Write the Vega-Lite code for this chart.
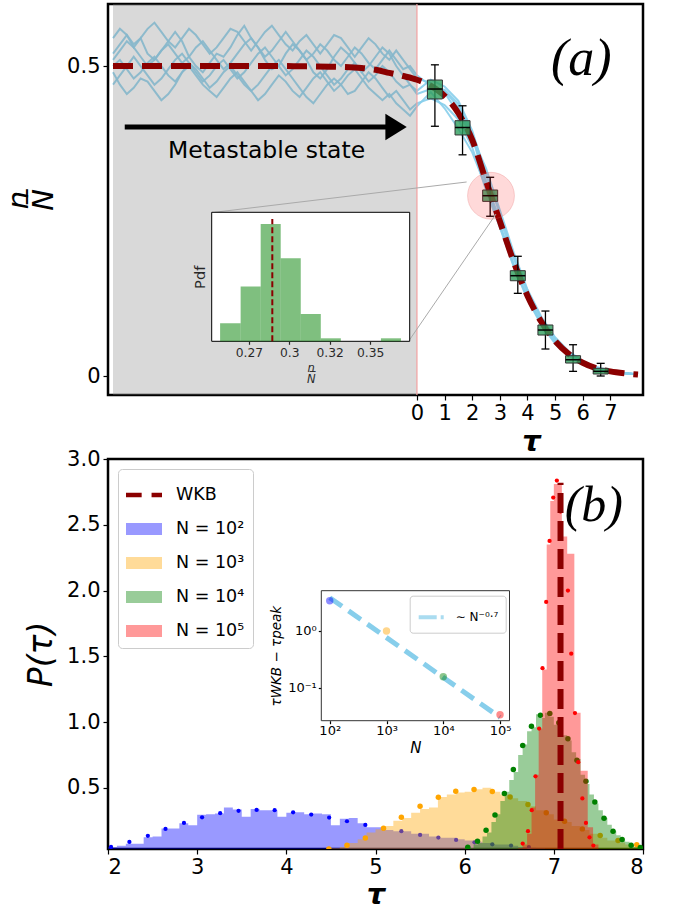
{
"$schema": "https://vega.github.io/schema/vega-lite/v6.json",
"background": "white",
"padding": {"top": 2, "left": 3, "right": 2, "bottom": 0},
"spacing": 64,
"bounds": "flush",
"resolve": {"legend": {"color": "independent", "shape": "independent", "stroke": "independent"}},
"config": {
  "font": "DejaVu Sans",
  "view": {"stroke": "black", "strokeWidth": 2.5},
  "axis": {"domain": false, "grid": false, "tickColor": "black", "tickWidth": 1.2, "labelColor": "black", "titleColor": "black", "titleFontWeight": "normal", "labelFont": "DejaVu Sans", "titleFont": "DejaVu Sans"}
},
"datasets": {
  "traces": [{
    "x": [-11,-10.75,-10.5,-10.25,-10,-9.75,-9.5,-9.25,-9,-8.75,-8.5,-8.25,-8,-7.75,-7.5,-7.25,-7,-6.75,-6.5,-6.25,-6,-5.75,-5.5,-5.25,-5,-4.75,-4.5,-4.25,-4,-3.75,-3.5,-3.25,-3,-2.75,-2.5,-2.25,-2,-1.75,-1.5,-1.25,-1,-0.75,-0.5,-0.25,0,0.5,1,1.5,2,2.5,3,3.5,4,4.5,5,5.5,6,6.5,7,7.5,8],
    "a": [0.52,0.535,0.55,0.53,0.545,0.52,0.51,0.525,0.54,0.555,0.54,0.515,0.50,0.49,0.505,0.52,0.515,0.53,0.55,0.565,0.545,0.53,0.51,0.495,0.50,0.52,0.535,0.525,0.51,0.49,0.48,0.495,0.515,0.53,0.52,0.505,0.49,0.50,0.515,0.53,0.52,0.50,0.485,0.47,0.46,0.478,0.467,0.444,0.396,0.325,0.262,0.195,0.138,0.094,0.061,0.039,0.024,0.014,0.008,0.005,0.003],
    "b": [0.49,0.47,0.455,0.465,0.48,0.475,0.46,0.445,0.455,0.47,0.49,0.50,0.485,0.47,0.46,0.45,0.465,0.48,0.49,0.475,0.46,0.47,0.485,0.50,0.51,0.495,0.48,0.465,0.45,0.44,0.455,0.47,0.48,0.47,0.455,0.46,0.475,0.49,0.48,0.465,0.45,0.46,0.445,0.43,0.44,0.448,0.437,0.414,0.369,0.3,0.24,0.177,0.124,0.083,0.053,0.033,0.02,0.012,0.007,0.005,0.003],
    "c": [0.545,0.56,0.55,0.535,0.545,0.56,0.57,0.555,0.54,0.53,0.545,0.56,0.55,0.535,0.52,0.53,0.545,0.56,0.555,0.54,0.525,0.54,0.555,0.565,0.55,0.535,0.525,0.54,0.55,0.535,0.52,0.535,0.55,0.545,0.53,0.515,0.53,0.545,0.535,0.52,0.51,0.525,0.51,0.495,0.48,0.473,0.457,0.424,0.386,0.335,0.268,0.2,0.14,0.096,0.063,0.04,0.025,0.015,0.009,0.006,0.004],
    "d": [0.50,0.51,0.495,0.48,0.49,0.505,0.515,0.50,0.485,0.475,0.49,0.505,0.495,0.48,0.465,0.475,0.49,0.50,0.485,0.47,0.46,0.445,0.455,0.47,0.485,0.475,0.46,0.45,0.465,0.48,0.49,0.475,0.46,0.47,0.485,0.495,0.48,0.465,0.455,0.445,0.455,0.44,0.43,0.42,0.435,0.458,0.432,0.399,0.361,0.305,0.245,0.181,0.127,0.086,0.055,0.035,0.021,0.013,0.008,0.005,0.003],
    "e": [0.51,0.525,0.54,0.53,0.515,0.50,0.51,0.525,0.535,0.52,0.505,0.515,0.53,0.54,0.525,0.51,0.495,0.505,0.52,0.535,0.545,0.53,0.515,0.525,0.54,0.555,0.54,0.525,0.51,0.52,0.535,0.525,0.51,0.50,0.515,0.53,0.52,0.505,0.495,0.51,0.525,0.51,0.495,0.50,0.485,0.468,0.46,0.434,0.386,0.31,0.254,0.19,0.134,0.09,0.058,0.036,0.022,0.013,0.008,0.005,0.003],
    "f": [0.47,0.485,0.50,0.515,0.50,0.485,0.47,0.48,0.495,0.51,0.52,0.505,0.49,0.475,0.485,0.50,0.51,0.495,0.48,0.49,0.505,0.52,0.53,0.515,0.50,0.485,0.495,0.51,0.525,0.515,0.50,0.485,0.47,0.48,0.495,0.505,0.49,0.475,0.485,0.50,0.49,0.475,0.465,0.47,0.455,0.463,0.462,0.439,0.391,0.315,0.242,0.179,0.126,0.085,0.055,0.035,0.022,0.013,0.008,0.005,0.003]
  }],
  "wkbA": [{
    "x": [-11,-8,-6,-5,-4,-3,-2,-1.5,-1,-0.5,0,0.5,1,1.5,2,2.5,3,3.5,4,4.5,5,5.5,6,6.5,7,7.5,8],
    "y": [0.5,0.5,0.5,0.5,0.4995,0.499,0.497,0.494,0.489,0.484,0.478,0.468,0.452,0.424,0.381,0.315,0.25,0.185,0.13,0.088,0.057,0.036,0.022,0.013,0.008,0.005,0.003]
  }],
  "boxes": [
    {"x":0.65,"lo":0.403,"q1":0.447,"med":0.463,"q3":0.4775,"hi":0.502},
    {"x":1.65,"lo":0.357,"q1":0.389,"med":0.401,"q3":0.412,"hi":0.436},
    {"x":2.65,"lo":0.258,"q1":0.282,"med":0.2911,"q3":0.3003,"hi":0.3208},
    {"x":3.65,"lo":0.1338,"q1":0.1541,"med":0.1622,"q3":0.1703,"hi":0.1935},
    {"x":4.65,"lo":0.0441,"q1":0.0666,"med":0.0747,"q3":0.0828,"hi":0.1053},
    {"x":5.65,"lo":0.0081,"q1":0.0215,"med":0.0268,"q3":0.0333,"hi":0.051},
    {"x":6.65,"lo":0.0006,"q1":0.0038,"med":0.0081,"q3":0.013,"hi":0.021}
  ],
  "inhist": [{
    "x": [0.2572,0.2699,0.2823,0.2947,0.3071,0.3195,0.3567],
    "x2": [0.2699,0.2823,0.2947,0.3071,0.3195,0.3319,0.3691],
    "y": [6,18.3,39.1,27.7,9.1,1,1]
  }],
  "hist": [
    {"N":"2","x":[2.0,2.1,2.2,2.3,2.4,2.5,2.6,2.7,2.8,2.9,3.0,3.1,3.2,3.3,3.4,3.5,3.6,3.7,3.8,3.9,4.0,4.1,4.2,4.3,4.4,4.5,4.6,4.7,4.8,4.9,5.0,5.1,5.2,5.3,5.4,5.5,5.6,5.7,5.8,5.9,6.0,6.1,6.2,6.3,6.4,6.5,6.6,6.7,6.8,6.9,7.0,7.1],
     "y":[0.05,0.06,0.075,0.075,0.125,0.13,0.19,0.19,0.23,0.215,0.295,0.3,0.305,0.35,0.335,0.28,0.34,0.33,0.33,0.28,0.31,0.315,0.3,0.305,0.3,0.215,0.265,0.27,0.23,0.2,0.2,0.18,0.17,0.17,0.15,0.15,0.13,0.12,0.12,0.11,0.1,0.09,0.08,0.07,0.07,0.06,0.05,0.045,0.04,0.035,0.03,0]},
    {"N":"3","x":[4.4,4.5,4.6,4.7,4.8,4.9,5.0,5.1,5.2,5.3,5.4,5.5,5.6,5.7,5.8,5.9,6.0,6.1,6.2,6.3,6.4,6.5,6.6,6.7,6.8,6.9,7.0,7.1,7.2,7.3,7.4,7.5,7.6,7.7,7.8,7.9,8.0],
     "y":[0.03,0.04,0.05,0.08,0.11,0.16,0.185,0.21,0.25,0.27,0.31,0.34,0.35,0.43,0.45,0.465,0.47,0.49,0.5,0.47,0.45,0.42,0.4,0.36,0.33,0.3,0.26,0.24,0.21,0.18,0.15,0.12,0.1,0.085,0.07,0.05,0]},
    {"N":"4","x":[6.0,6.05,6.1,6.15,6.2,6.25,6.3,6.35,6.4,6.45,6.5,6.55,6.6,6.65,6.7,6.75,6.8,6.85,6.9,6.95,7.0,7.05,7.1,7.15,7.2,7.25,7.3,7.35,7.4,7.45,7.5,7.55,7.6,7.65,7.7,7.75,7.8,7.85,7.9,7.95,8.0],
     "y":[0.03,0.04,0.07,0.08,0.13,0.16,0.24,0.3,0.4,0.47,0.56,0.62,0.75,0.83,0.93,0.96,1.06,1.03,1.07,1.04,0.98,1.0,0.9,0.86,0.77,0.72,0.6,0.53,0.45,0.38,0.33,0.27,0.22,0.17,0.14,0.1,0.09,0.06,0.05,0.04,0]},
    {"N":"5","x":[6.6,6.65,6.7,6.75,6.79,6.83,6.87,6.92,6.96,7.0,7.09,7.15,7.23,7.3,7.38,7.44,7.5],
     "y":[0.04,0.07,0.15,0.35,0.6,0.95,1.4,2.35,2.68,2.81,2.41,2.28,1.07,0.63,0.2,0.07,0]}
  ],
  "dots": [
    {"N":"2","x":[2.034,2.24,2.447,2.645,2.852,3.055,3.258,3.464,3.667,3.869,4.076,4.279,4.48,4.68,4.886,5.09,5.29,5.5,5.705,5.904,6.11,6.31,6.52,6.72],
     "y":[0.051,0.089,0.135,0.188,0.233,0.276,0.307,0.325,0.332,0.33,0.314,0.297,0.274,0.246,0.218,0.19,0.17,0.142,0.122,0.104,0.086,0.071,0.061,0.05]},
    {"N":"3","x":[4.477,4.68,4.886,5.09,5.29,5.5,5.705,5.9,6.105,6.31,6.51,6.71,6.915,7.12,7.32,7.52,7.72,7.93],
     "y":[0.035,0.063,0.119,0.193,0.276,0.36,0.428,0.474,0.487,0.472,0.431,0.373,0.31,0.246,0.188,0.137,0.099,0.068]},
    {"N":"4","x":[6.035,6.144,6.24,6.34,6.445,6.546,6.651,6.749,6.85,6.955,7.056,7.158,7.259,7.36,7.46,7.563,7.664,7.766,7.867,7.97],
     "y":[0.048,0.094,0.177,0.294,0.457,0.639,0.822,0.969,1.052,1.065,0.994,0.873,0.71,0.55,0.393,0.269,0.17,0.107,0.063,0.046]},
    {"N":"5","x":[6.651,6.71,6.752,6.794,6.835,6.873,6.914,6.952,6.993,7.034,7.075,7.158,7.195,7.237,7.274,7.32,7.36,7.40,7.443],
     "y":[0.076,0.17,0.33,0.588,0.951,1.41,1.913,2.377,2.707,2.836,2.6,2.0,1.52,1.068,0.695,0.419,0.233,0.124,0.061]}
  ]
},
"vconcat": [
 {
  "width": 535, "height": 391,
  "resolve": {"scale": {"x": "independent", "y": "independent"}},
  "layer": [
   {"layer": [
     {"data": {"name": "traces"},
      "transform": [{"flatten": ["x","a","b","c","d","e","f"]}, {"fold": ["a","b","c","d","e","f"], "as": ["trace","y"]}],
      "mark": {"type": "line", "color": "#87ceeb", "strokeWidth": 2, "opacity": 0.9},
      "encoding": {
        "x": {"field": "x", "type": "quantitative", "scale": {"domain": [-11, 8], "nice": false, "zero": false},
              "axis": {"values": [0,1,2,3,4,5,6,7], "format": "d", "title": "τ", "titleFontSize": 29, "titleFontStyle": "italic", "titleFontWeight": "bold", "titleX": 423, "titlePadding": 4, "labelFontSize": 21, "tickSize": 5, "labelPadding": 2}},
        "y": {"field": "y", "type": "quantitative", "scale": {"domain": [-0.03, 0.6], "nice": false, "zero": false},
              "axis": {"values": [0, 0.5], "format": "~g", "title": ["n", "N\u0305"], "titleFontSize": 29, "titleFontStyle": "italic", "titleLineHeight": 25, "titlePadding": 8, "labelFontSize": 21, "tickSize": 5, "labelPadding": 3}},
        "detail": {"field": "trace", "type": "nominal"}
      }},
     {"data": {"values": [{"x": -11, "x2": 0, "y": -0.03, "y2": 0.6}]},
      "mark": {"type": "rect", "color": "gray", "opacity": 0.3},
      "encoding": {"x": {"field": "x", "type": "quantitative"}, "x2": {"field": "x2"}, "y": {"field": "y", "type": "quantitative"}, "y2": {"field": "y2"}}},
     {"data": {"values": [{"x": 0}]},
      "mark": {"type": "rule", "color": "#f2a0a0", "strokeWidth": 1.2},
      "encoding": {"x": {"field": "x", "type": "quantitative"}}},
     {"data": {"name": "wkbA"},
      "transform": [{"flatten": ["x","y"]}],
      "mark": {"type": "line", "color": "#8b0000", "strokeWidth": 6, "strokeDash": [20, 9], "interpolate": "monotone"},
      "encoding": {"x": {"field": "x", "type": "quantitative"}, "y": {"field": "y", "type": "quantitative"}}},
     {"data": {"name": "boxes"},
      "mark": {"type": "rule", "color": "black", "strokeWidth": 1.3},
      "encoding": {"x": {"field": "x", "type": "quantitative"}, "y": {"field": "lo", "type": "quantitative"}, "y2": {"field": "hi"}}},
     {"data": {"name": "boxes"},
      "mark": {"type": "tick", "orient": "horizontal", "color": "black", "size": 8, "thickness": 1.3, "opacity": 1},
      "encoding": {"x": {"field": "x", "type": "quantitative"}, "y": {"field": "lo", "type": "quantitative"}}},
     {"data": {"name": "boxes"},
      "mark": {"type": "tick", "orient": "horizontal", "color": "black", "size": 8, "thickness": 1.3, "opacity": 1},
      "encoding": {"x": {"field": "x", "type": "quantitative"}, "y": {"field": "hi", "type": "quantitative"}}},
     {"data": {"name": "boxes"},
      "mark": {"type": "bar", "fill": "#2e9d5c", "fillOpacity": 0.8, "stroke": "#333333", "strokeWidth": 1, "size": 15},
      "encoding": {"x": {"field": "x", "type": "quantitative"}, "y": {"field": "q1", "type": "quantitative"}, "y2": {"field": "q3"}}},
     {"data": {"name": "boxes"},
      "mark": {"type": "tick", "orient": "horizontal", "color": "black", "size": 15, "thickness": 1.5, "opacity": 1},
      "encoding": {"x": {"field": "x", "type": "quantitative"}, "y": {"field": "med", "type": "quantitative"}}},
     {"data": {"values": [{"x": 2.68, "y": 0.291}]},
      "mark": {"type": "point", "filled": true, "shape": "circle", "size": 2200, "fill": "#ff0000", "fillOpacity": 0.15, "stroke": "#e06060", "strokeOpacity": 0.25, "strokeWidth": 1},
      "encoding": {"x": {"field": "x", "type": "quantitative"}, "y": {"field": "y", "type": "quantitative"}}},
     {"data": {"values": [{"x": -7.324, "y": 0.2644, "x2": 1.797, "y2": 0.3132}, {"x": -0.305, "y": 0.0565, "x2": 2.861, "y2": 0.2616}]},
      "mark": {"type": "rule", "color": "#aaaaaa", "strokeWidth": 1},
      "encoding": {"x": {"field": "x", "type": "quantitative"}, "y": {"field": "y", "type": "quantitative"}, "x2": {"field": "x2"}, "y2": {"field": "y2"}}},
     {"data": {"values": [{"x": -10.575, "x2": -0.9, "y": 0.4018}]},
      "mark": {"type": "rule", "color": "black", "strokeWidth": 5},
      "encoding": {"x": {"field": "x", "type": "quantitative"}, "x2": {"field": "x2"}, "y": {"field": "y", "type": "quantitative"}}},
     {"data": {"values": [{"x": -0.755, "y": 0.4018}]},
      "mark": {"type": "point", "filled": true, "shape": "M-0.8,-1L0.8,0L-0.8,1Z", "size": 713, "color": "black", "opacity": 1},
      "encoding": {"x": {"field": "x", "type": "quantitative"}, "y": {"field": "y", "type": "quantitative"}}},
     {"data": {"values": [{"x": -5.44, "y": 0.363, "t": "Metastable state"}]},
      "mark": {"type": "text", "fontSize": 23.5, "font": "DejaVu Sans", "color": "black", "baseline": "middle", "align": "center"},
      "encoding": {"x": {"field": "x", "type": "quantitative"}, "y": {"field": "y", "type": "quantitative"}, "text": {"field": "t"}}},
     {"data": {"values": [{"x": 5.944, "y": 0.511, "t": "(a)"}]},
      "mark": {"type": "text", "fontSize": 52, "font": "Liberation Serif", "fontStyle": "italic", "color": "black", "baseline": "middle", "align": "center"},
      "encoding": {"x": {"field": "x", "type": "quantitative"}, "y": {"field": "y", "type": "quantitative"}, "text": {"field": "t"}}}
   ]},
   {"layer": [
     {"data": {"values": [{"x": 0.252, "x2": 0.3745, "y": 0, "y2": 43}]},
      "mark": {"type": "rect", "fill": "white", "stroke": "black", "strokeWidth": 1},
      "encoding": {
        "x": {"field": "x", "type": "quantitative", "scale": {"domain": [0.252, 0.3745], "range": [103.7, 301.7], "nice": false, "zero": false},
              "axis": {"orient": "bottom", "offset": -53.7, "values": [0.275, 0.3, 0.325, 0.35], "labelExpr": "datum.value < 0.28 ? '0.27' : datum.value < 0.31 ? '0.3' : datum.value < 0.33 ? '0.32' : '0.35'", "labelFontSize": 12.3, "tickSize": 3, "labelPadding": 2, "title": ["n", "N\u0305"], "titleFontSize": 11.5, "titleFontStyle": "italic", "titleLineHeight": 11, "titlePadding": 4}},
        "x2": {"field": "x2"},
        "y": {"field": "y", "type": "quantitative", "scale": {"domain": [0, 43], "range": [337.3, 208.3], "nice": false, "zero": false},
              "axis": {"orient": "left", "offset": -103.7, "ticks": false, "labels": false, "title": "Pdf", "titleFontSize": 14.6, "titlePadding": 4}},
        "y2": {"field": "y2"}
      }},
     {"data": {"name": "inhist"},
      "transform": [{"flatten": ["x","x2","y"]}],
      "mark": {"type": "rect", "color": "green", "opacity": 0.5},
      "encoding": {"x": {"field": "x", "type": "quantitative"}, "x2": {"field": "x2"}, "y": {"field": "y", "type": "quantitative"}, "y2": {"datum": 0}}},
     {"data": {"values": [{"x": 0.2895, "y": 0, "y2": 40.8}]},
      "mark": {"type": "rule", "color": "#8b0000", "strokeWidth": 2, "strokeDash": [6, 3]},
      "encoding": {"x": {"field": "x", "type": "quantitative"}, "y": {"field": "y", "type": "quantitative"}, "y2": {"field": "y2"}}}
   ]}
  ]
 },
 {
  "width": 535, "height": 390,
  "resolve": {"scale": {"x": "independent", "y": "independent"}},
  "layer": [
   {"layer": [
     {"data": {"name": "hist"},
      "transform": [{"filter": "datum.N == '2'"}, {"flatten": ["x","y"]}],
      "mark": {"type": "area", "interpolate": "step-after", "color": "blue", "opacity": 0.4, "clip": true},
      "encoding": {
        "x": {"field": "x", "type": "quantitative", "scale": {"domain": [2, 8], "nice": false, "zero": false},
              "axis": {"values": [2,3,4,5,6,7,8], "format": "d", "title": "τ", "titleFontSize": 29, "titleFontStyle": "italic", "titleFontWeight": "bold", "titlePadding": 3, "labelFontSize": 21, "tickSize": 5, "labelPadding": 2}},
        "y": {"field": "y", "type": "quantitative", "stack": null, "scale": {"domain": [0.035, 3], "nice": false, "zero": false},
              "axis": {"values": [0.5,1,1.5,2,2.5,3], "format": ".1f", "title": "P(τ)", "titleFontSize": 33, "titleFontStyle": "italic", "titlePadding": 8, "labelFontSize": 21, "tickSize": 5, "labelPadding": 3}}
      }},
     {"data": {"name": "dots"},
      "transform": [{"filter": "datum.N == '2'"}, {"flatten": ["x","y"]}],
      "mark": {"type": "point", "filled": true, "color": "blue", "size": 18, "opacity": 1, "clip": true},
      "encoding": {"x": {"field": "x", "type": "quantitative"}, "y": {"field": "y", "type": "quantitative"}}},
     {"data": {"name": "hist"},
      "transform": [{"filter": "datum.N == '3'"}, {"flatten": ["x","y"]}],
      "mark": {"type": "area", "interpolate": "step-after", "color": "orange", "opacity": 0.4, "clip": true},
      "encoding": {"x": {"field": "x", "type": "quantitative"}, "y": {"field": "y", "type": "quantitative", "stack": null}}},
     {"data": {"name": "dots"},
      "transform": [{"filter": "datum.N == '3'"}, {"flatten": ["x","y"]}],
      "mark": {"type": "point", "filled": true, "color": "orange", "size": 30, "opacity": 1, "clip": true},
      "encoding": {"x": {"field": "x", "type": "quantitative"}, "y": {"field": "y", "type": "quantitative"}}},
     {"data": {"name": "hist"},
      "transform": [{"filter": "datum.N == '4'"}, {"flatten": ["x","y"]}],
      "mark": {"type": "area", "interpolate": "step-after", "color": "green", "opacity": 0.4, "clip": true},
      "encoding": {"x": {"field": "x", "type": "quantitative"}, "y": {"field": "y", "type": "quantitative", "stack": null}}},
     {"data": {"name": "dots"},
      "transform": [{"filter": "datum.N == '4'"}, {"flatten": ["x","y"]}],
      "mark": {"type": "point", "filled": true, "color": "green", "size": 30, "opacity": 1, "clip": true},
      "encoding": {"x": {"field": "x", "type": "quantitative"}, "y": {"field": "y", "type": "quantitative"}}},
     {"data": {"name": "hist"},
      "transform": [{"filter": "datum.N == '5'"}, {"flatten": ["x","y"]}],
      "mark": {"type": "area", "interpolate": "step-after", "color": "red", "opacity": 0.4, "clip": true},
      "encoding": {"x": {"field": "x", "type": "quantitative"}, "y": {"field": "y", "type": "quantitative", "stack": null}}},
     {"data": {"name": "dots"},
      "transform": [{"filter": "datum.N == '5'"}, {"flatten": ["x","y"]}],
      "mark": {"type": "point", "filled": true, "color": "red", "size": 18, "opacity": 1, "clip": true},
      "encoding": {"x": {"field": "x", "type": "quantitative"}, "y": {"field": "y", "type": "quantitative"}}},
     {"data": {"values": [{"x": 7.075, "y": 0.035, "y2": 2.82}]},
      "mark": {"type": "rule", "color": "#8b0000", "strokeWidth": 6, "strokeDash": [20, 8], "clip": true},
      "encoding": {"x": {"field": "x", "type": "quantitative"}, "y": {"field": "y", "type": "quantitative"}, "y2": {"field": "y2"}}},
     {"data": {"values": [{"x": 7.449, "y": 2.643, "t": "(b)"}]},
      "mark": {"type": "text", "fontSize": 50, "font": "Liberation Serif", "fontStyle": "italic", "color": "black", "baseline": "middle", "align": "center"},
      "encoding": {"x": {"field": "x", "type": "quantitative"}, "y": {"field": "y", "type": "quantitative"}, "text": {"field": "t"}}},
     {"data": {"values": []},
      "mark": {"type": "point", "filled": true, "opacity": 1},
      "encoding": {
        "color": {"field": "lab", "type": "nominal",
                  "scale": {"domain": ["WKB", "N = 10²", "N = 10³", "N = 10⁴", "N = 10⁵"], "range": ["#8b0000", "#9999ff", "#ffdb99", "#99cc99", "#ff9999"]},
                  "legend": {"title": null, "orient": "top-left", "offset": 10, "padding": 8, "symbolSize": 1296, "symbolStrokeWidth": 0, "symbolOpacity": 1, "labelFontSize": 17.5, "labelOffset": 14, "rowPadding": 7, "fillColor": "white", "strokeColor": "#cccccc", "cornerRadius": 4}},
        "shape": {"field": "lab", "type": "nominal",
                  "scale": {"domain": ["WKB", "N = 10²", "N = 10³", "N = 10⁴", "N = 10⁵"], "range": ["M-1,-0.13H-0.13V0.13H-1Z M0.42,-0.13H1V0.13H0.42Z", "M-1,-0.34H1V0.34H-1Z", "M-1,-0.34H1V0.34H-1Z", "M-1,-0.34H1V0.34H-1Z", "M-1,-0.34H1V0.34H-1Z"]},
                  "legend": {"title": null, "orient": "top-left", "offset": 10, "padding": 8, "symbolSize": 1296, "symbolStrokeWidth": 0, "symbolOpacity": 1, "labelFontSize": 17.5, "labelOffset": 14, "rowPadding": 7, "fillColor": "white", "strokeColor": "#cccccc", "cornerRadius": 4}}
      }}
   ]},
   {"layer": [
     {"data": {"values": [{"x": 71, "x2": 146900, "y": 0.0264, "y2": 5.04}]},
      "mark": {"type": "rect", "fill": "white", "stroke": "#333333", "strokeWidth": 1},
      "encoding": {
        "x": {"field": "x", "type": "quantitative", "scale": {"type": "log", "domain": [71, 146900], "range": [213.3, 401.5], "nice": false},
              "axis": {"orient": "bottom", "offset": -128.3, "values": [100, 1000, 10000, 100000], "labelExpr": "datum.value < 500 ? '10²' : datum.value < 5000 ? '10³' : datum.value < 50000 ? '10⁴' : '10⁵'", "labelFontSize": 13, "tickSize": 3, "labelPadding": 1, "title": "N", "titleFontSize": 15, "titleFontStyle": "italic", "titlePadding": 3}},
        "x2": {"field": "x2"},
        "y": {"field": "y", "type": "quantitative", "scale": {"type": "log", "domain": [0.0264, 5.04], "range": [261.7, 131.7], "nice": false},
              "axis": {"orient": "left", "offset": -213.3, "values": [0.1, 1], "labelExpr": "datum.value > 0.5 ? '10⁰' : '10⁻¹'", "labelFontSize": 13, "tickSize": 3, "labelPadding": 2, "title": "τWKB − τpeak", "titleFontSize": 13.5, "titleFontStyle": "italic", "titlePadding": 4}},
        "y2": {"field": "y2"}
      }},
     {"data": {"values": [{"x": 100, "y": 3.8}, {"x": 100000, "y": 0.0302}]},
      "mark": {"type": "line", "color": "#87ceeb", "strokeWidth": 5, "strokeDash": [15, 8]},
      "encoding": {"x": {"field": "x", "type": "quantitative"}, "y": {"field": "y", "type": "quantitative"}}},
     {"data": {"values": [{"x": 100, "y": 3.36, "c": "blue"}, {"x": 1000, "y": 0.99, "c": "orange"}, {"x": 10000, "y": 0.156, "c": "green"}, {"x": 100000, "y": 0.0336, "c": "red"}]},
      "mark": {"type": "point", "filled": true, "size": 55, "opacity": 0.45},
      "encoding": {"x": {"field": "x", "type": "quantitative"}, "y": {"field": "y", "type": "quantitative"}, "fill": {"field": "c", "type": "nominal", "scale": null}}},
     {"data": {"values": []},
      "mark": {"type": "point", "filled": false, "shape": "M-1,0H0.44M0.76,0H1", "strokeWidth": 4},
      "encoding": {
        "stroke": {"field": "lab2", "type": "nominal", "scale": {"domain": ["∼ N⁻⁰·⁷"], "range": ["#87ceeb"]},
                   "legend": {"title": null, "orient": "none", "legendX": 301.7, "legendY": 136.7, "symbolType": "M-1,0H0.44M0.76,0H1", "symbolSize": 625, "symbolStrokeWidth": 4, "labelFontSize": 12, "labelOffset": 10, "padding": 7, "fillColor": "white", "strokeColor": "#cccccc", "cornerRadius": 3}}
      }}
   ]}
  ]
 }
]
}
